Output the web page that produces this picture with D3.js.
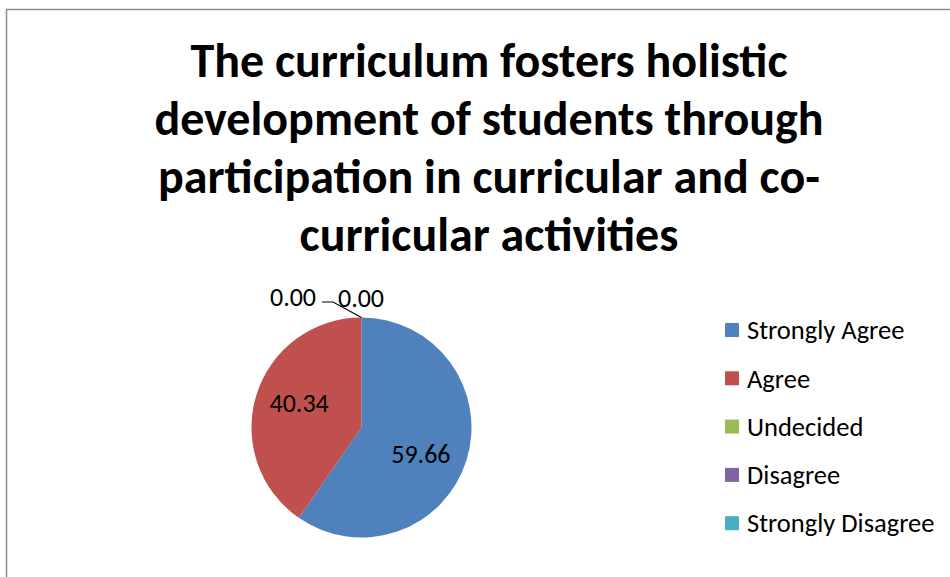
<!DOCTYPE html>
<html>
<head>
<meta charset="utf-8">
<script src="https://cdn.jsdelivr.net/npm/d3@7"></script>
<style>
  body { margin: 0; background: #fff; }
  text { font-family: Carlito, Calibri, "Open Sans", sans-serif; }
</style>
</head>
<body>
<div id="chart"></div>
<script>
// chart data
const categories = ['Strongly Agree', 'Agree', 'Undecided', 'Disagree', 'Strongly Disagree'];
const values = [59.66, 40.34, 0.00, 0.00, 0.00];
const colors = ['#4F81BD', '#C0504D', '#9BBB59', '#8064A2', '#4BACC6'];
const titleLines = [
    'The curriculum fosters holistic',
    'development of students through',
    'participation in curricular and co-',
    'curricular activities'
];

const width = 950, height = 577;
const cx = 361.5, cy = 427.5, radius = 110;

const svg = d3.select('#chart').append('svg')
    .attr('width', width)
    .attr('height', height);

// outer frame (runs off the right and bottom)
svg.append('rect')
    .attr('x', 6.5)
    .attr('y', 9.5)
    .attr('width', 980)
    .attr('height', 600)
    .attr('fill', '#fff')
    .attr('stroke', '#8c8c8c')
    .attr('stroke-width', 1.5);

// title
svg.append('g').selectAll('text')
    .data(titleLines).enter()
    .append('text')
    .attr('x', 489)
    .attr('y', (d, i) => 77 + i * 58)
    .attr('text-anchor', 'middle')
    .attr('font-size', 48)
    .attr('font-weight', 'bold')
    .attr('fill', '#000')
    .text(d => d);

const pie = d3.pie().sort(null).value(d => d);
const arc = d3.arc().innerRadius(0).outerRadius(radius);
const arcs = pie(values);

const g = svg.append('g')
    .attr('transform', 'translate(' + cx + ',' + cy + ')');

g.selectAll('path')
    .data(arcs).enter()
    .append('path')
    .attr('d', arc)
    .attr('fill', (d, i) => colors[i]);

// labels inside the non-zero slices (nudged vertically like the original)
const labelArc = d3.arc().innerRadius(radius * 0.58).outerRadius(radius * 0.58);
const labelNudge = [7, -6];
g.selectAll('.label')
    .data(arcs.filter(d => d.value > 0)).enter()
    .append('text')
    .attr('class', 'label')
    .attr('transform', function (d, i) {
        const c = labelArc.centroid(d);
        return 'translate(' + (c[0] - 1.5) + ',' + (c[1] + labelNudge[i]) + ')';
    })
    .attr('dy', '0.35em')
    .attr('text-anchor', 'middle')
    .attr('font-size', 26)
    .text(d => d.value.toFixed(2));

// zero-value labels pile up at the top of the pie
const zeroArcs = arcs.filter(d => d.value === 0);
const pieTop = [0, -radius];
g.append('polyline')
    .attr('points', [[-39.5, -125.5], [-28.5, -125.5], pieTop].map(p => p.join(',')).join(' '))
    .attr('fill', 'none')
    .attr('stroke', '#000')
    .attr('stroke-width', 1.2);

g.selectAll('.zero-label')
    .data([zeroArcs[0], zeroArcs[1]]).enter()
    .append('text')
    .attr('class', 'zero-label')
    .attr('x', (d, i) => i === 0 ? -68.5 : -0.5)
    .attr('y', (d, i) => i === 0 ? -130.5 : -129.5)
    .attr('dy', '0.35em')
    .attr('text-anchor', 'middle')
    .attr('font-size', 26)
    .text(d => d.value.toFixed(2));

// legend
const legend = svg.append('g')
    .attr('transform', 'translate(725,330)');

const rows = legend.selectAll('g')
    .data(categories).enter()
    .append('g')
    .attr('transform', (d, i) => 'translate(0,' + (i * 48.3) + ')');

rows.append('rect')
    .attr('x', 0)
    .attr('y', -7)
    .attr('width', 14)
    .attr('height', 14)
    .attr('fill', (d, i) => colors[i]);

rows.append('text')
    .attr('x', 22)
    .attr('y', 0)
    .attr('dy', '0.35em')
    .attr('font-size', 26.5)
    .attr('fill', '#000')
    .text(d => d);
</script>
</body>
</html>
